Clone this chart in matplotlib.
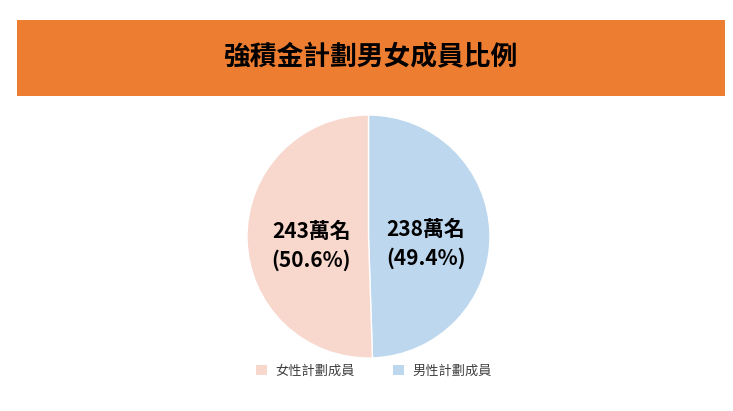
import matplotlib
matplotlib.use("Agg")
import matplotlib.pyplot as plt
from matplotlib.patches import Rectangle, Patch

plt.rcParams['font.family'] = ['Noto Sans CJK TC', 'DejaVu Sans']

title = "強積金計劃男女成員比例"
categories = ["男性計劃成員", "女性計劃成員"]
members = [238, 243]          # 萬名
percents = [49.4, 50.6]
colors = ["#BDD7EE", "#F8D7CD"]

W, H = 733, 411
fig = plt.figure(figsize=(W / 100, H / 100), dpi=100)
fig.patch.set_facecolor("white")

# orange title bar
bar = Rectangle((17 / W, 1 - 96 / H), (725 - 17) / W, (96 - 20) / H,
                transform=fig.transFigure, facecolor="#ED7D31", edgecolor="none")
fig.patches.append(bar)
fig.text(370 / W, 1 - 57 / H, title, ha="center", va="center",
         fontsize=19.3, fontweight="bold", color="black")

# pie
cx, cy, r = 368.5, 236.5, 121.5
ax = fig.add_axes([(cx - r) / W, 1 - (cy + r) / H, 2 * r / W, 2 * r / H])
labels = [f"{m}萬名\n({p}%)" for m, p in zip(members, percents)]
wedges, texts = ax.pie(members, colors=colors, startangle=90, counterclock=False,
                       labels=labels, labeldistance=0.47,
                       wedgeprops=dict(edgecolor="white", linewidth=1))
for t in texts:
    x, y = t.get_position()
    t.set_position((x, y - 0.07))
    t.set_ha("center")
    t.set_va("center")
    t.set_fontsize(15)
    t.set_fontweight("bold")
    t.set_linespacing(1.45)
ax.set_xlim(-1, 1)
ax.set_ylim(-1, 1)
ax.set_aspect("equal")
ax.axis("off")

# legend (female first)
handles = [Patch(facecolor=colors[1], edgecolor="none"),
           Patch(facecolor=colors[0], edgecolor="none")]
fig.legend(handles, [categories[1], categories[0]], loc="center",
           bbox_to_anchor=(374 / W, 1 - 371 / H), ncol=2, frameon=False,
           fontsize=9.5, handlelength=0.85, handleheight=0.85, handletextpad=0.6,
           columnspacing=2.9, labelcolor="#404040")

fig.savefig("out.png", dpi=100, facecolor="white")
